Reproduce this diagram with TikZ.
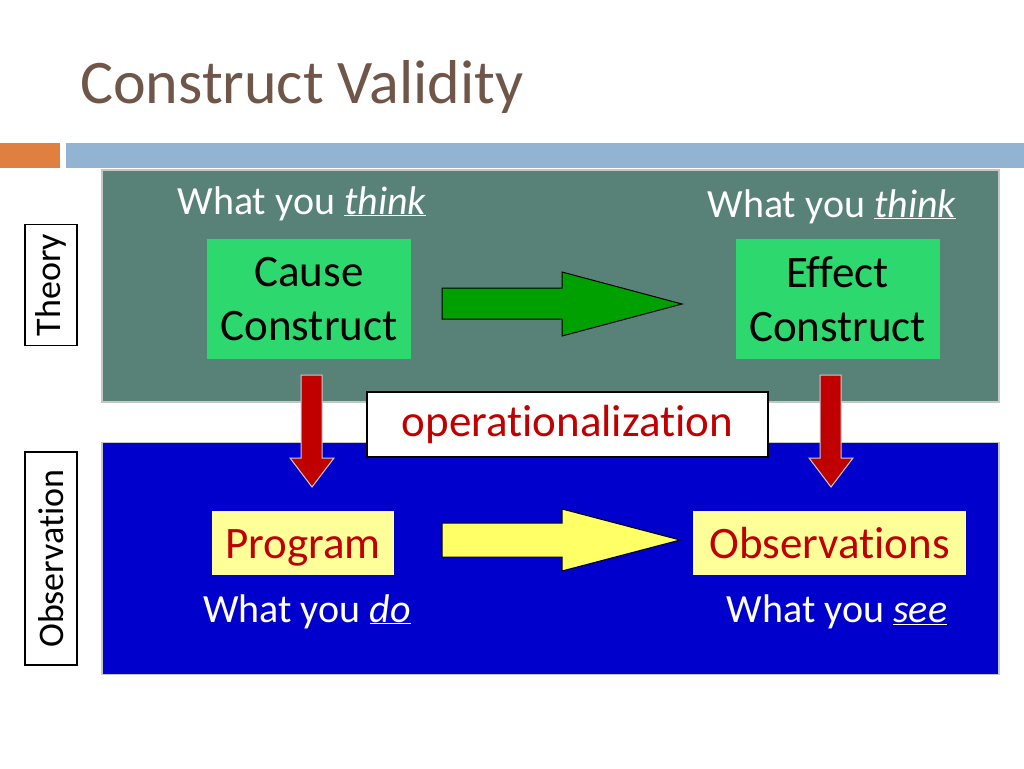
\documentclass[tikz,border=0pt]{standalone}
\usepackage{fontspec}
\setmainfont[Ligatures={NoCommon}]{Carlito}
\usepackage{xcolor}
\definecolor{titlebrown}  {RGB}{112, 86, 72}
\definecolor{barorange}   {RGB}{224, 128, 64}
\definecolor{barblue}     {RGB}{146, 180, 210}
\definecolor{theorygreen} {RGB}{88, 130, 120}
\definecolor{obsblue}     {RGB}{0, 0, 204}
\definecolor{constgreen}  {RGB}{45, 217, 110}
\definecolor{arrowgreen}  {RGB}{0, 160, 0}
\definecolor{arrowyellow} {RGB}{255, 255, 102}
\definecolor{boxyellow}   {RGB}{255, 255, 153}
\definecolor{darkred}     {RGB}{192, 0, 0}
\usetikzlibrary{positioning}

\begin{document}
\begin{tikzpicture}[x=1pt, y=-1pt,
        every node/.style={inner sep=0pt},
        panel/.style={draw=gray!45, line width=1.2pt, minimum width=897pt, minimum height=232pt},
        construct/.style={fill=constgreen, minimum width=204pt, minimum height=120pt, align=center, font=\fontsize{45}{54}\selectfont},
        yellowbox/.style={fill=boxyellow, minimum height=64pt, text height=30pt, text depth=0pt, text=darkred, font=\fontsize{45}{54}\selectfont},
        whattext/.style={anchor=base, text=white, font=\fontsize{40}{48}\selectfont},
        sidelabel/.style={draw, line width=1.5pt, rotate=90, minimum height=52pt, font=\fontsize{36}{42}\selectfont}]
        \fill[white] (0,0) rectangle (1024,768);
        \useasboundingbox (0,0) rectangle (1024,768);
        % title and bars
        \node[anchor=base west, text=titlebrown, font=\fontsize{62}{72}\selectfont] (title) at (80,103) {Construct Validity};
        \fill[barorange] (0,143) rectangle (60,168);
        \fill[barblue] (66,143) rectangle (1024,168);
        % panels
        \node[panel, fill=theorygreen] (theorypanel) at (550.5,286) {};
        \node[panel, fill=obsblue] (obspanel) at (550.5,558.5) {};
        \node[sidelabel, minimum width=121pt] (theory) at (51,285) {Theory};
        \node[sidelabel, minimum width=213pt] (observation) at (51,558.5) {Observation};
        % theory row
        \node[whattext] (thinkcause) at (302,214) {What you \underline{\textit{think}}};
        \node[whattext] (thinkeffect) at (832,217) {What you \underline{\textit{think}}};
        \node[construct] (cause) at (309,299) {Cause\\Construct};
        \node[construct] (effect) at (837.5,299) {Effect\\Construct};
        \draw[fill=arrowgreen, line width=1pt] (442,288) -- (562,288) -- (562,272) -- (682,304) -- (562,336) -- (562,319) -- (442,319) -- cycle;
        % operationalization
        \draw[fill=darkred, draw=gray!40, line width=1pt] (301,375) -- (322,375) -- (322,458) -- (334,458) -- (312,487) -- (290,458) -- (301,458) -- cycle;
        \draw[fill=darkred, draw=gray!40, line width=1pt] (820,375) -- (841,375) -- (841,458) -- (853,458) -- (831,487) -- (809,458) -- (820,458) -- cycle;
        \node[draw, fill=white, line width=2.5pt, minimum width=401pt, minimum height=65pt, text=darkred, font=\fontsize{45}{54}\selectfont] (oper) at (567.5,424.5) {operationalization};
        % observation row
        \node[yellowbox, minimum width=182pt] (program) at (303,543) {Program};
        \node[yellowbox, minimum width=273pt] (observations) at (829.5,543) {Observations};
        \draw[fill=arrowyellow, line width=1pt] (442,523) -- (562,523) -- (562,509) -- (680,540) -- (562,571) -- (562,557) -- (442,557) -- cycle;
        \node[whattext] (doing) at (307,622) {What you \underline{\textit{do}}};
        \node[whattext] (seeing) at (837,622) {What you \underline{\textit{see}}};
    \end{tikzpicture}
\end{document}
